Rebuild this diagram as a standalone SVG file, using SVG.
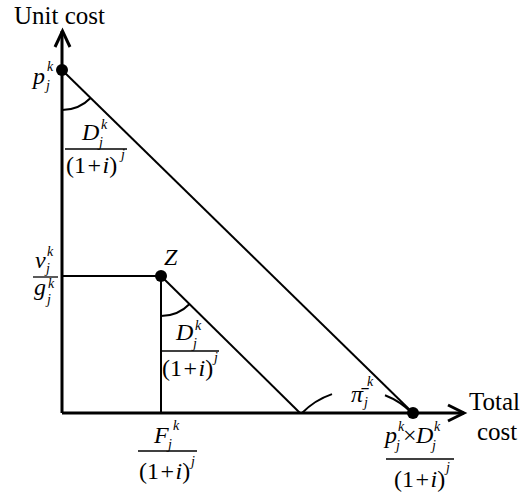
<svg xmlns="http://www.w3.org/2000/svg" width="528" height="497" viewBox="0 0 528 497" font-family="'Liberation Serif', 'DejaVu Serif', serif">
<style>
.ax{stroke:#000;stroke-width:3;fill:none;stroke-linejoin:miter}
.ln{stroke:#000;stroke-width:2;fill:none}
.fr{stroke:#000;stroke-width:1.3}
.t{font-family:'Liberation Serif','DejaVu Serif',serif;font-size:25px}
.m{font-family:'Liberation Serif','DejaVu Serif',serif;font-size:24px}
.i{font-style:italic}
.s{font-family:'Liberation Serif','DejaVu Serif',serif;font-size:14px;font-style:italic}
</style>
<rect width="528" height="497" fill="#fff"/>
<g id="connectors">
<path class="ax" d="M62,413 V31"/>
<path class="ax" d="M55,47 L62.5,31 L70,47"/>
<path class="ax" d="M62,413 H464"/>
<path class="ax" d="M448,405 L464,413 L448,421"/>
<path class="ln" d="M62,70 L413,413"/>
<path class="ln" d="M62,276 H161"/>
<path class="ln" d="M161,276 V413"/>
<path class="ln" d="M161,276 L300,413"/>
<path class="ln" d="M62,110 A40,40 0 0 0 90.6,98"/>
<path class="ln" d="M161,316 A40,40 0 0 0 189.6,304"/>
<path class="ln" d="M302,413 A77,77 0 0 1 332,394.1"/>
<path class="ln" d="M385,395.2 A77,77 0 0 1 412,413"/>
</g>
<g id="axis-labels">
<text class="t" x="14" y="24">Unit cost</text>
<text class="t" x="469" y="410">Total</text>
<text class="t" x="477" y="440">cost</text>
</g>
<g id="node-p">
<circle cx="62" cy="70" r="6"/>
<text class="m i" x="33" y="84">p</text>
<text class="s" x="47" y="71">k</text>
<text class="s" x="46" y="90">j</text>
</g>
<g id="label-angle-p">
<text class="m i" x="82" y="140">D</text>
<text class="s" x="101" y="129">k</text>
<text class="s" x="99" y="147">j</text>
<line class="fr" x1="65" y1="149" x2="127" y2="149"/>
<text class="m" x="66" y="173">(1<tspan dx="1.5">+</tspan><tspan dx="1.5" class="i">i</tspan>)</text>
<text class="s" x="121" y="159">j</text>
</g>
<g id="label-vg">
<text class="m i" x="35" y="268">v</text>
<text class="s" x="47" y="256">k</text>
<text class="s" x="46" y="273">j</text>
<line class="fr" x1="33" y1="277" x2="58" y2="277"/>
<text class="m i" x="34" y="295">g</text>
<text class="s" x="48" y="288">k</text>
<text class="s" x="47" y="304">j</text>
</g>
<g id="node-z">
<circle cx="161" cy="276" r="6"/>
<text class="m i" x="164" y="265">Z</text>
</g>
<g id="label-angle-z">
<text class="m i" x="176" y="340">D</text>
<text class="s" x="195" y="330">k</text>
<text class="s" x="193" y="348">j</text>
<line class="fr" x1="161" y1="351" x2="219" y2="351"/>
<text class="m" x="162" y="376">(1<tspan dx="1.5">+</tspan><tspan dx="1.5" class="i">i</tspan>)</text>
<text class="s" x="214" y="362">j</text>
</g>
<g id="label-f">
<text class="m i" x="154" y="443">F</text>
<text class="s" x="173" y="430">k</text>
<text class="s" x="168" y="449">j</text>
<line class="fr" x1="138" y1="451" x2="197" y2="451"/>
<text class="m" x="139" y="479">(1<tspan dx="1.5">+</tspan><tspan dx="1.5" class="i">i</tspan>)</text>
<text class="s" x="191" y="466">j</text>
</g>
<g id="label-pi">
<text class="m i" x="351" y="402">π̄</text>
<text class="s" x="367" y="386">k</text>
<text class="s" x="364" y="407">j</text>
</g>
<g id="node-end">
<circle cx="413" cy="413" r="6"/>
<text class="m i" x="385" y="443">p</text>
<text class="s" x="398" y="431">k</text>
<text class="s" x="396" y="450">j</text>
<text class="m" x="403" y="443">×</text>
<text class="m i" x="416" y="443">D</text>
<text class="s" x="434" y="431">k</text>
<text class="s" x="432" y="450">j</text>
<line class="fr" x1="386" y1="459" x2="454" y2="459"/>
<text class="m" x="394" y="487">(1<tspan dx="1.5">+</tspan><tspan dx="1.5" class="i">i</tspan>)</text>
<text class="s" x="446" y="472">j</text>
</g>
</svg>
